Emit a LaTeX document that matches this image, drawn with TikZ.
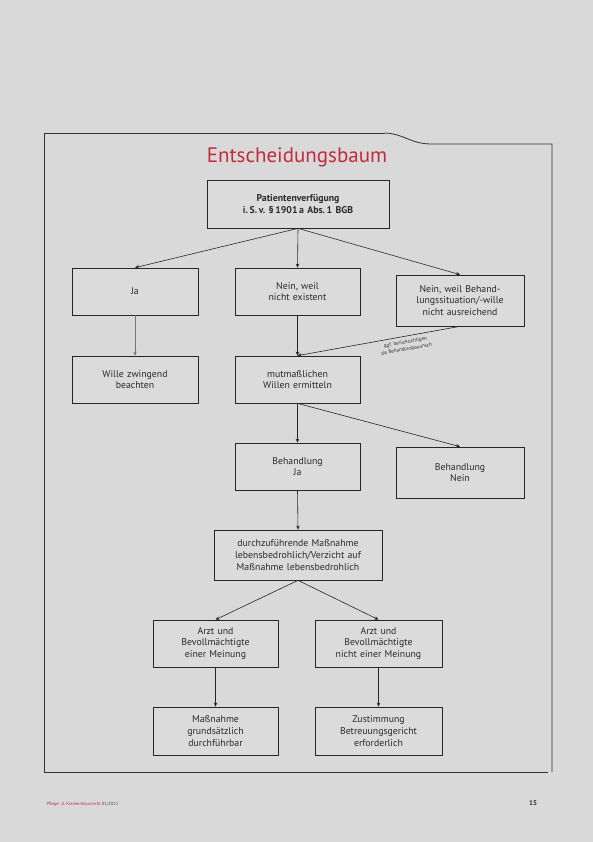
\documentclass[tikz,border=0pt]{standalone}
\usepackage{fontspec}
\setmainfont{PT Sans}
\usetikzlibrary{arrows.meta}
\definecolor{bg}{HTML}{D9D9D9}
\definecolor{boxfill}{HTML}{DBDBDB}
\definecolor{titlered}{HTML}{C42A3E}
\definecolor{txt}{HTML}{2A2A2A}
\tikzset{
  box/.style={draw=black!85, line width=0.7pt, fill=boxfill, align=center, text=txt,
    font=\fontsize{9.8}{11.8}\selectfont, inner sep=2pt},
  arr/.style={draw=black!85, line width=0.6pt, -{Stealth[length=4pt,width=3.5pt]}},
  frame/.style={draw=black!80, line width=0.8pt},
}
\newcommand{\boxat}[6]{% name, x1, y1, x2, y2, text
  \node[box, minimum width=#4pt-#2pt, minimum height=#5pt-#3pt, text width=#4pt-#2pt-6pt] (#1) at ({(#2+#4)/2}, {(#3+#5)/2}) {#6};}
\begin{document}
\begin{tikzpicture}[x=1pt, y=-1pt]
\fill[bg] (0,0) rectangle (593,842);
\useasboundingbox (0,0) rectangle (593,842);
% frame
\draw[frame] (385,133) -- (44,133) -- (44,772) -- (548,772);
\draw[frame] (385,133) .. controls (405,134) and (410,144) .. (432,144) -- (552,144) -- (552,772);
% title
\node[text=titlered, font=\fontsize{21}{23}\selectfont] (title) at (297,157) {Entscheidungsbaum};
% boxes
\boxat{pv}{207}{180}{389}{228}{\textbf{Patientenverfügung}\\\textbf{i.\,S.\,v.~§\,1901\,a Abs.\,1 BGB}}
\boxat{ja}{72}{268}{198}{315}{Ja}
\boxat{ne}{235}{268}{360}{315}{Nein, weil\\nicht existent}
\boxat{nb}{396}{275}{524}{326}{Nein, weil Behand-\\lungssituation/-wille\\nicht ausreichend}
\boxat{wz}{72}{356}{198}{403}{Wille zwingend\\beachten}
\boxat{mw}{235}{356}{360}{403}{mutmaßlichen\\Willen ermitteln}
\boxat{bj}{235}{443}{360}{490}{Behandlung\\Ja}
\boxat{bn}{396}{447}{524}{498}{Behandlung\\Nein}
\boxat{dm}{214}{530}{382}{580}{durchzuführende Maßnahme\\lebensbedrohlich/Verzicht auf\\Maßnahme lebensbedrohlich}
\boxat{ae}{153}{620}{278}{667}{Arzt und\\Bevollmächtigte\\einer Meinung}
\boxat{an}{315}{620}{442}{667}{Arzt und\\Bevollmächtigte\\nicht einer Meinung}
\boxat{mg}{153}{707}{278}{755}{Maßnahme\\grundsätzlich\\durchführbar}
\boxat{zb}{315}{707}{442}{755}{Zustimmung\\Betreuungsgericht\\erforderlich}
% arrows
\draw[arr] (pv.south) -- (ja.north);
\draw[arr] (pv.south) -- (ne.north);
\draw[arr] (pv.south) -- (nb.north);
\draw[arr, draw=black!55] (ja.south) -- (wz.north);
\draw[arr] (ne.south) -- (mw.north);
\draw[arr] (nb.south) -- (mw.north);
\draw[arr] (mw.south) -- (bj.north);
\draw[arr] (mw.south) -- (bn.north);
\draw[arr] (bj.south) -- (dm.north);
\draw[arr] (dm.south) -- (ae.north);
\draw[arr] (dm.south) -- (an.north);
\draw[arr] (ae.south) -- (mg.north);
\draw[arr] (an.south) -- (zb.north);
\node[rotate=10, align=center, text=txt, font=\fontsize{5}{7}\selectfont] (lbl) at (406,346) {ggf. berücksichtigen\\als Behandlungswunsch};
% footer
\node[anchor=west, font=\fontsize{4.5}{5}\selectfont, text=black!70] (foot) at (43,804) {\textcolor{titlered}{Pflege- \& Krankenhausrecht} 01/2011};
\node[font=\fontsize{7}{8}\selectfont\bfseries, text=black!80] (page) at (533,803) {15};
\end{tikzpicture}
\end{document}
